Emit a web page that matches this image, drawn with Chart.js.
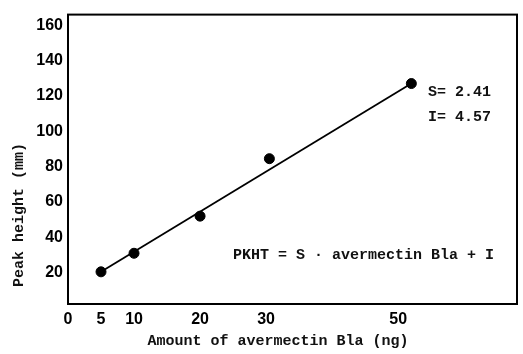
<!DOCTYPE html>
<html>
<head>
<meta charset="utf-8">
<script src="https://cdn.jsdelivr.net/npm/chart.js@4/dist/chart.umd.min.js"></script>
<style>
  html, body { margin: 0; padding: 0; background: #fff; }
  #wrap { width: 523px; height: 354px; }
</style>
</head>
<body>
<div id="wrap"><canvas id="chart"></canvas></div>
<script>
'use strict';

// measured points
const AMOUNT_NG = [5, 10, 20, 30.5, 52];
const PEAK_MM = [20.5, 31, 52, 84.5, 127];

// fitted line, drawn end to end
const FIT_X = [5, 52];
const FIT_Y = [20.5, 127];

const X_TICKS = [0, 5, 10, 20, 30, 50];
const Y_TICKS = [20, 40, 60, 80, 100, 120, 140, 160];

const MONO = '"Liberation Mono", "DejaVu Sans Mono", monospace';
const SANS = '"Liberation Sans", Arial, sans-serif';

const frame = {
  id: 'frame',
  afterDraw(chart) {
    const { ctx, chartArea: a } = chart;
    ctx.save();
    ctx.strokeStyle = '#000';
    ctx.lineWidth = 2;
    ctx.strokeRect(a.left, a.top, a.right - a.left, a.bottom - a.top);

    ctx.fillStyle = '#111';
    ctx.font = 'bold 15px ' + MONO;
    ctx.textBaseline = 'middle';
    ctx.textAlign = 'left';
    ctx.fillText('S= 2.41', 428, 92);
    ctx.fillText('I= 4.57', 428, 117);
    ctx.fillText('PKHT = S \u00b7 avermectin Bla + I', 233, 255);

    ctx.textAlign = 'center';
    ctx.fillText('Amount of avermectin Bla (ng)', 278, 341);

    ctx.translate(19, 215);
    ctx.rotate(-Math.PI / 2);
    ctx.fillText('Peak height (mm)', 0, 0);
    ctx.restore();
  }
};

new Chart(document.getElementById('chart'), {
  type: 'scatter',
  data: {
    datasets: [
      {
        type: 'line',
        data: FIT_X.map((x, i) => ({ x, y: FIT_Y[i] })),
        borderColor: '#000',
        borderWidth: 1.8,
        pointRadius: 0,
        fill: false
      },
      {
        data: AMOUNT_NG.map((x, i) => ({ x, y: PEAK_MM[i] })),
        backgroundColor: '#000',
        borderColor: '#000',
        pointRadius: 5,
        pointHoverRadius: 5
      }
    ]
  },
  options: {
    responsive: true,
    maintainAspectRatio: false,
    animation: false,
    events: [],
    layout: { padding: { left: 0, right: 5, top: 7, bottom: 0 } },
    plugins: { legend: { display: false }, tooltip: { enabled: false } },
    scales: {
      x: {
        type: 'linear',
        min: 0,
        max: 68,
        grid: { display: false, drawTicks: false },
        border: { display: false },
        afterBuildTicks: s => { s.ticks = X_TICKS.map(v => ({ value: v })); },
        afterFit: s => { s.height = 50; },
        ticks: { color: '#000', padding: 6, font: { family: SANS, size: 16, weight: 'bold' } }
      },
      y: {
        min: 2.3,
        max: 166,
        grid: { display: false, drawTicks: false },
        border: { display: false },
        afterBuildTicks: s => { s.ticks = Y_TICKS.map(v => ({ value: v })); },
        afterFit: s => { s.width = 68; },
        ticks: { color: '#000', padding: 5, font: { family: SANS, size: 16, weight: 'bold' } }
      }
    }
  },
  plugins: [frame]
});
</script>
</body>
</html>
